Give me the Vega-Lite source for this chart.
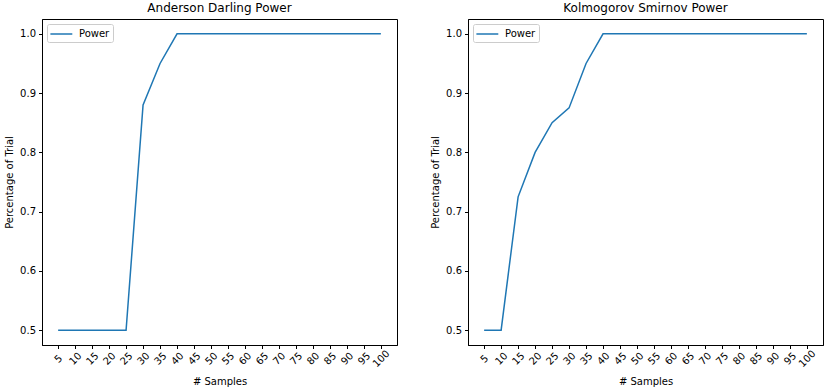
{
  "$schema": "https://vega.github.io/schema/vega-lite/v6.json",
  "padding": {"left": 4, "top": 1, "right": 5, "bottom": 0},
  "background": "white",
  "spacing": 71,
  "bounds": "flush",
  "resolve": {"scale": {"color": "independent"}},
  "config": {
    "font": "DejaVu Sans",
    "view": {"stroke": "#000000", "strokeWidth": 1},
    "axis": {
      "grid": false,
      "domainColor": "#000000",
      "tickColor": "#000000",
      "tickSize": 3.5,
      "labelColor": "#000000",
      "labelFontSize": 10,
      "titleColor": "#000000",
      "titleFontSize": 10,
      "titleFontWeight": "normal",
      "labelFont": "DejaVu Sans",
      "titleFont": "DejaVu Sans"
    },
    "title": {"fontSize": 12, "fontWeight": "normal", "font": "DejaVu Sans", "color": "#000000", "offset": 4, "anchor": "middle"},
    "legend": {
      "offset": 5,
      "strokeColor": "#cccccc",
      "fillColor": "white",
      "cornerRadius": 2,
      "padding": 3,
      "symbolType": "M-1.1,0H2.55",
      "symbolSize": 144,
      "symbolStrokeWidth": 1.5,
      "labelFontSize": 10,
      "labelFont": "DejaVu Sans",
      "labelColor": "#000000",
      "labelOffset": 15
    }
  },
  "hconcat": [
    {
      "title": "Anderson Darling Power",
      "width": 355,
      "height": 326,
      "data": {"values": [
        {"samples": 5, "power": 0.5, "series": "Power"},
        {"samples": 10, "power": 0.5, "series": "Power"},
        {"samples": 15, "power": 0.5, "series": "Power"},
        {"samples": 20, "power": 0.5, "series": "Power"},
        {"samples": 25, "power": 0.5, "series": "Power"},
        {"samples": 30, "power": 0.88, "series": "Power"},
        {"samples": 35, "power": 0.95, "series": "Power"},
        {"samples": 40, "power": 1.0, "series": "Power"},
        {"samples": 45, "power": 1.0, "series": "Power"},
        {"samples": 50, "power": 1.0, "series": "Power"},
        {"samples": 55, "power": 1.0, "series": "Power"},
        {"samples": 60, "power": 1.0, "series": "Power"},
        {"samples": 65, "power": 1.0, "series": "Power"},
        {"samples": 70, "power": 1.0, "series": "Power"},
        {"samples": 75, "power": 1.0, "series": "Power"},
        {"samples": 80, "power": 1.0, "series": "Power"},
        {"samples": 85, "power": 1.0, "series": "Power"},
        {"samples": 90, "power": 1.0, "series": "Power"},
        {"samples": 95, "power": 1.0, "series": "Power"},
        {"samples": 100, "power": 1.0, "series": "Power"}
      ]},
      "mark": {"type": "line", "strokeWidth": 1.5},
      "encoding": {
        "x": {"field": "samples", "type": "ordinal", "scale": {"type": "point", "padding": 0.95},
              "axis": {"title": "# Samples", "labelAngle": -45, "labelAlign": "center", "labelBaseline": "middle", "labelPadding": 10, "titlePadding": 8}},
        "y": {"field": "power", "type": "quantitative", "scale": {"domain": [0.475, 1.025], "nice": false, "zero": false},
              "axis": {"title": "Percentage of Trial", "values": [0.5, 0.6, 0.7, 0.8, 0.9, 1.0], "format": ".1f", "labelPadding": 3, "titlePadding": 5}},
        "color": {"field": "series", "type": "nominal", "scale": {"domain": ["Power"], "range": ["#1f77b4"]},
                  "legend": {"title": null, "orient": "top-left"}}
      }
    },
    {
      "title": "Kolmogorov Smirnov Power",
      "width": 355,
      "height": 326,
      "data": {"values": [
        {"samples": 5, "power": 0.5, "series": "Power"},
        {"samples": 10, "power": 0.5, "series": "Power"},
        {"samples": 15, "power": 0.725, "series": "Power"},
        {"samples": 20, "power": 0.8, "series": "Power"},
        {"samples": 25, "power": 0.85, "series": "Power"},
        {"samples": 30, "power": 0.875, "series": "Power"},
        {"samples": 35, "power": 0.95, "series": "Power"},
        {"samples": 40, "power": 1.0, "series": "Power"},
        {"samples": 45, "power": 1.0, "series": "Power"},
        {"samples": 50, "power": 1.0, "series": "Power"},
        {"samples": 55, "power": 1.0, "series": "Power"},
        {"samples": 60, "power": 1.0, "series": "Power"},
        {"samples": 65, "power": 1.0, "series": "Power"},
        {"samples": 70, "power": 1.0, "series": "Power"},
        {"samples": 75, "power": 1.0, "series": "Power"},
        {"samples": 80, "power": 1.0, "series": "Power"},
        {"samples": 85, "power": 1.0, "series": "Power"},
        {"samples": 90, "power": 1.0, "series": "Power"},
        {"samples": 95, "power": 1.0, "series": "Power"},
        {"samples": 100, "power": 1.0, "series": "Power"}
      ]},
      "mark": {"type": "line", "strokeWidth": 1.5},
      "encoding": {
        "x": {"field": "samples", "type": "ordinal", "scale": {"type": "point", "padding": 0.95},
              "axis": {"title": "# Samples", "labelAngle": -45, "labelAlign": "center", "labelBaseline": "middle", "labelPadding": 10, "titlePadding": 8}},
        "y": {"field": "power", "type": "quantitative", "scale": {"domain": [0.475, 1.025], "nice": false, "zero": false},
              "axis": {"title": "Percentage of Trial", "values": [0.5, 0.6, 0.7, 0.8, 0.9, 1.0], "format": ".1f", "labelPadding": 3, "titlePadding": 5}},
        "color": {"field": "series", "type": "nominal", "scale": {"domain": ["Power"], "range": ["#1f77b4"]},
                  "legend": {"title": null, "orient": "top-left"}}
      }
    }
  ]
}
